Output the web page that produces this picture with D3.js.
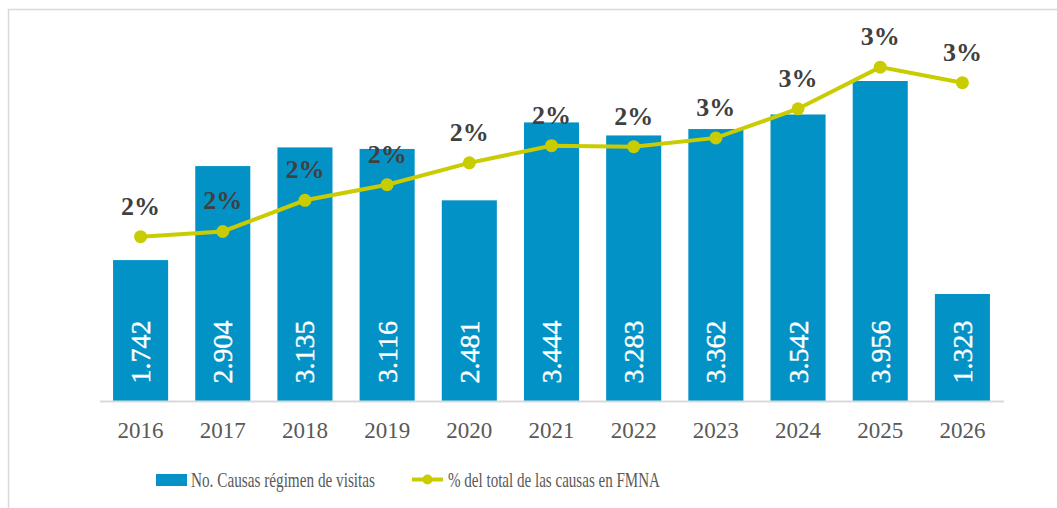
<!DOCTYPE html>
<html>
<head>
<meta charset="utf-8">
<script src="https://cdn.jsdelivr.net/npm/d3@7"></script>
<style>
  html, body { margin: 0; padding: 0; background: #fff; overflow: hidden; }
  svg { display: block; }
</style>
</head>
<body>
<script>
// chart data
const years = ['2016', '2017', '2018', '2019', '2020', '2021', '2022', '2023', '2024', '2025', '2026']
const causas = [1742, 2904, 3135, 3116, 2481, 3444, 3283, 3362, 3542, 3956, 1323]
const pctTotal = [0.0158, 0.0163, 0.0193, 0.0208, 0.0229, 0.02455, 0.02445, 0.0253, 0.0281, 0.0321, 0.0306]
const legendLabels = ['No. Causas régimen de visitas', '% del total de las causas en FMNA']

const width = 1057, height = 508
const barColor = '#0392c6'
const lineColor = '#c9cc00'
const textColor = '#404040'
const font = '"Liberation Serif", "Times New Roman", serif'

const svg = d3.select('body').append('svg')
    .attr('width', width)
    .attr('height', height)
    .style('font-family', font)

// outer frame (only top and left edges visible)
svg.append('rect')
    .attr('x', 8.5).attr('y', 9.5)
    .attr('width', width + 20).attr('height', height + 20)
    .attr('fill', 'none')
    .attr('stroke', '#d9d9d9')
    .attr('stroke-width', 1.5)

const x = d3.scaleBand(years, [99.5, 1003.5]).paddingInner(0.33).paddingOuter(0.165)
const y = d3.scaleLinear([0, 4500], [401, 37])
const y2 = d3.scaleLinear([0, 0.035], [401, 37])

// bars
svg.append('g')
    .selectAll('rect')
    .data(causas)
    .join('rect')
    .attr('x', (d, i) => x(years[i]))
    .attr('y', d => y(d))
    .attr('width', x.bandwidth())
    .attr('height', d => y(0) - y(d))
    .attr('fill', barColor)

// bar value labels (rotated)
const fmt = d3.formatLocale({decimal: ',', thousands: '.', grouping: [3], currency: ['', '']}).format(',d')
svg.append('g')
    .selectAll('text')
    .data(causas)
    .join('text')
    .attr('transform', (d, i) => `translate(${x(years[i]) + x.bandwidth() / 2 + 9.5},352) rotate(-90)`)
    .attr('text-anchor', 'middle')
    .attr('fill', '#fff')
    .attr('stroke', '#fff')
    .attr('stroke-width', 0.4)
    .style('font-size', '28px')
    .text(d => fmt(d))

// x axis
const xAxis = svg.append('g')
    .attr('transform', `translate(0,${y(0)})`)
    .call(d3.axisBottom(x).tickSize(0).tickPadding(0))
xAxis.select('.domain').attr('stroke', '#d9d9d9').attr('stroke-width', 2)
xAxis.selectAll('text')
    .attr('dy', null)
    .attr('y', 37)
    .attr('fill', '#595959')
    .style('font-family', font)
    .style('font-size', '23px')

// percentage line
const cx = (i) => x(years[i]) + x.bandwidth() / 2
const line = d3.line()
    .x((d, i) => cx(i))
    .y(d => y2(d))
svg.append('path')
    .datum(pctTotal)
    .attr('d', line)
    .attr('fill', 'none')
    .attr('stroke', lineColor)
    .attr('stroke-width', 4)

svg.append('g')
    .selectAll('circle')
    .data(pctTotal)
    .join('circle')
    .attr('cx', (d, i) => cx(i))
    .attr('cy', d => y2(d))
    .attr('r', 6.5)
    .attr('fill', lineColor)

svg.append('g')
    .selectAll('text')
    .data(pctTotal)
    .join('text')
    .attr('x', (d, i) => cx(i))
    .attr('y', d => y2(d) - 22)
    .attr('text-anchor', 'middle')
    .attr('fill', textColor)
    .style('font-size', '26px')
    .style('font-weight', 'bold')
    .text(d => d3.format('.0%')(d))

// legend
const legend = svg.append('g')
legend.append('rect')
    .attr('x', 156).attr('y', 474)
    .attr('width', 31).attr('height', 12)
    .attr('fill', barColor)
legend.append('text')
    .attr('x', 191).attr('y', 487)
    .attr('fill', '#595959')
    .attr('textLength', 184)
    .attr('lengthAdjust', 'spacingAndGlyphs')
    .style('font-size', '22px')
    .text(legendLabels[0])

legend.append('line')
    .attr('x1', 412).attr('x2', 443)
    .attr('y1', 479.5).attr('y2', 479.5)
    .attr('stroke', lineColor)
    .attr('stroke-width', 4)
legend.append('circle')
    .attr('cx', 427.5).attr('cy', 479.5)
    .attr('r', 5)
    .attr('fill', lineColor)
legend.append('text')
    .attr('x', 448).attr('y', 487)
    .attr('fill', '#595959')
    .attr('textLength', 212)
    .attr('lengthAdjust', 'spacingAndGlyphs')
    .style('font-size', '22px')
    .text(legendLabels[1])
</script>
</body>
</html>
